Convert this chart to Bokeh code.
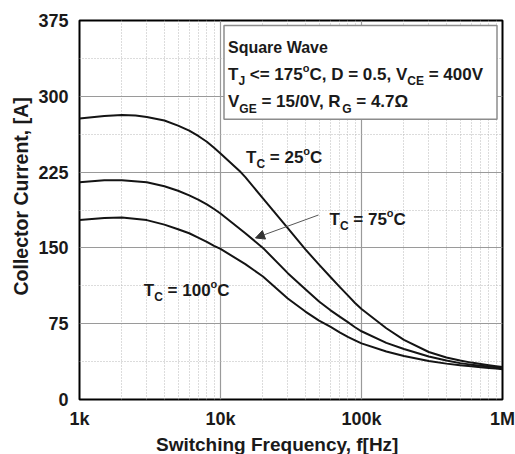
from bokeh.plotting import figure
from bokeh.models import FixedTicker, Range1d, Arrow, NormalHead, ColumnDataSource, Title
from bokeh.core.properties import value
from bokeh.embed import file_html
from bokeh.resources import INLINE

# ---------------- data ----------------
F_25 = [1000, 1500, 2000, 2500, 3000, 4000, 5000, 6000, 7000, 8000, 9000, 10000,
        13900, 15000, 20000, 30000, 40000, 50000, 60000, 70000, 80000, 90000,
        100000, 150000, 200000, 300000, 400000, 500000, 600000, 700000, 800000,
        900000, 1000000]
I_25 = [278, 280.5, 281.5, 281, 279.5, 276, 271, 266, 260.5, 255, 249, 243.5,
        225, 220, 199, 169.5, 148.5, 133.5, 121.5, 111.5, 103, 95.5,
        89.5, 70.5, 59, 47, 41.5, 38.5, 36.5, 35.2, 34,
        33, 32.2]

F_75 = [1000, 1500, 2000, 3000, 4000, 5000, 6000, 7000, 8000, 9000, 10000,
        15000, 20000, 30000, 40000, 50000, 60000, 70000, 80000, 90000, 100000,
        150000, 200000, 300000, 400000, 500000, 600000, 700000, 800000, 900000,
        1000000]
I_75 = [215, 217, 217, 215, 211, 206.5, 202, 197.5, 193, 188.5, 184,
        164.5, 150, 125, 109, 97, 88.5, 82, 76.5, 71.5, 67.5,
        56, 50, 42.5, 38.5, 36, 34.5, 33.5, 32.6, 31.8,
        31]

F_100 = list(F_75)
I_100 = [177.5, 179.5, 180, 177.5, 173, 168.5, 164.5, 160, 156, 152, 149,
         134, 121.7, 100, 87, 78, 72, 66.5, 62, 58.5, 55.5,
         47.5, 43, 38, 35.5, 34, 33, 32, 31.2, 30.6,
         30]

X_TICKS = [1000, 10000, 100000, 1000000]
X_TICK_LABELS = ["1k", "10k", "100k", "1M"]
X_MINOR = [2000, 3000, 4000, 5000, 6000, 7000, 8000, 9000,
           20000, 30000, 40000, 50000, 60000, 70000, 80000, 90000,
           200000, 300000, 400000, 500000, 600000, 700000, 800000, 900000]
Y_TICKS = [0, 75, 150, 225, 300, 375]
Y_MINOR = [37.5, 112.5, 187.5, 262.5, 337.5]

X_TITLE = "Switching Frequency, f[Hz]"
Y_TITLE = "Collector Current, [A]"

# ---------------- helpers: page pixel -> data ----------------
FL, FR, FT, FB = 79, 502, 20, 400   # frame edges in page pixels


def dx(px):
    return 10 ** (3 + 3 * (px - FL) / (FR - FL))


def dy(py):
    return 375 * (FB - py) / (FB - FT)


CW = {"T": 611, "C": 722, "J": 556, "V": 667, "E": 667, "G": 778, "R": 722,
      "D": 722, "S": 667, "W": 944, "q": 611, "u": 611, "a": 556, "r": 389,
      "e": 556, "v": 556, "o": 611, " ": 278, "=": 584, "<": 584, ",": 278,
      ".": 278, "/": 278, "\u03a9": 768}


def tw(s, size):
    return sum(CW.get(c, 556) for c in s) * size / 1000.0


FONT = "Liberation Sans"
TXT = "#1a1a1a"

p = figure(width=515, height=454, x_axis_type="log",
           x_range=Range1d(1000, 1000000), y_range=Range1d(0, 375),
           output_backend="svg", toolbar_location=None,
           min_border_left=FL, min_border_right=515 - FR, min_border_top=FT,
           min_border_bottom=454 - FB)
p.background_fill_color = "white"
p.border_fill_color = "white"
p.outline_line_color = "black"
p.outline_line_width = 2

# axes
p.xaxis.ticker = FixedTicker(ticks=X_TICKS, minor_ticks=X_MINOR)
p.yaxis.ticker = FixedTicker(ticks=Y_TICKS, minor_ticks=Y_MINOR)
p.xaxis.major_label_overrides = {t: l for t, l in zip(X_TICKS, X_TICK_LABELS)}
for ax in (p.xaxis, p.yaxis):
    ax.axis_line_color = None
    ax.major_tick_line_color = None
    ax.minor_tick_line_color = None
    ax.major_tick_out = 0
    ax.minor_tick_out = 0
    ax.major_tick_in = 0
    ax.minor_tick_in = 0
    ax.major_label_text_font = FONT
    ax.major_label_text_font_style = "bold"
    ax.major_label_text_font_size = "18px"
    ax.major_label_text_color = TXT
p.xaxis.major_label_standoff = 9
p.yaxis.major_label_standoff = 11

# axis titles
p.add_layout(Title(text=X_TITLE, align="left", offset=76.5, standoff=0,
                   text_font=FONT, text_font_style="bold", text_font_size="19px",
                   text_color=TXT), "below")
p.add_layout(Title(text=Y_TITLE, align="left", offset=104, standoff=8,
                   text_font=FONT, text_font_style="bold", text_font_size="19.5px",
                   text_color=TXT), "left")

# grid
for g in (p.xgrid, p.ygrid):
    g.grid_line_color = "#9a9a9a"
    g.grid_line_width = 1.2
    g.minor_grid_line_color = "#b8b8b8"
    g.minor_grid_line_dash = "1 2"
    g.minor_grid_line_width = 1

# curves
for fs, ys in ((F_25, I_25), (F_75, I_75), (F_100, I_100)):
    p.line(fs, ys, line_color="#141414", line_width=2, line_join="round")

# info box
p.quad(left=[dx(223.5)], right=[dx(496.5)], top=[dy(25)], bottom=[dy(119)],
       fill_color="white", line_color="#8c8c8c", line_width=1.5)

# rich text pieces (subscripts / superscripts)
SUB, SUP = 12, 11
xs, ys, ts, sz = [], [], [], []


def rich(px, py, parts, size, drop=6.5, raise_=6.5):
    x = px
    for s, k in parts:
        if k == "n":
            fsz, off = size, 0
        elif k == "sub":
            fsz, off = SUB, drop
        else:
            fsz, off = SUP, -raise_
        core = s.strip(" ")
        lead = len(s) - len(s.lstrip(" "))
        trail = len(s) - len(s.rstrip(" "))
        x += tw(" " * lead, fsz)
        xs.append(dx(x))
        ys.append(dy(py + off))
        ts.append(core)
        sz.append("%spx" % fsz)
        x += tw(core, fsz) + tw(" " * trail, fsz)


rich(227.5, 46.7, [("Square Wave", "n")], 16)
rich(227.5, 74, [("T", "n"), ("J", "sub"), (" <= 175", "n"), ("o", "sup"),
                 ("C, D = 0.5, V", "n"), ("CE", "sub"), (" = 400V", "n")], 17, drop=7)
rich(227.5, 101.7, [("V", "n"), ("GE", "sub"), (" = 15/0V, R", "n"), ("G", "sub"),
                    (" = 4.7\u03a9", "n")], 17, drop=7)
rich(245.5, 157.3, [("T", "n"), ("C", "sub"), (" = 25", "n"), ("o", "sup"), ("C", "n")], 17)
rich(329, 220, [("T", "n"), ("C", "sub"), (" = 75", "n"), ("o", "sup"), ("C", "n")], 17)
rich(143.3, 290.7, [("T", "n"), ("C", "sub"), (" = 100", "n"), ("o", "sup"), ("C", "n")], 17)

src = ColumnDataSource(dict(x=xs, y=ys, text=ts, size=sz))
p.text(x="x", y="y", text="text", text_font_size="size", source=src,
       text_font=value(FONT), text_font_style="bold", text_color=TXT,
       text_align="left", text_baseline="alphabetic")

# arrow to the 75 C curve
p.add_layout(Arrow(end=NormalHead(size=9, fill_color="#333333", line_color="#333333"),
                   x_start=dx(318), y_start=dy(215), x_end=dx(255), y_end=dy(238),
                   line_color="#555555", line_width=1))

open("out.html", "w").write(file_html(p, INLINE))
